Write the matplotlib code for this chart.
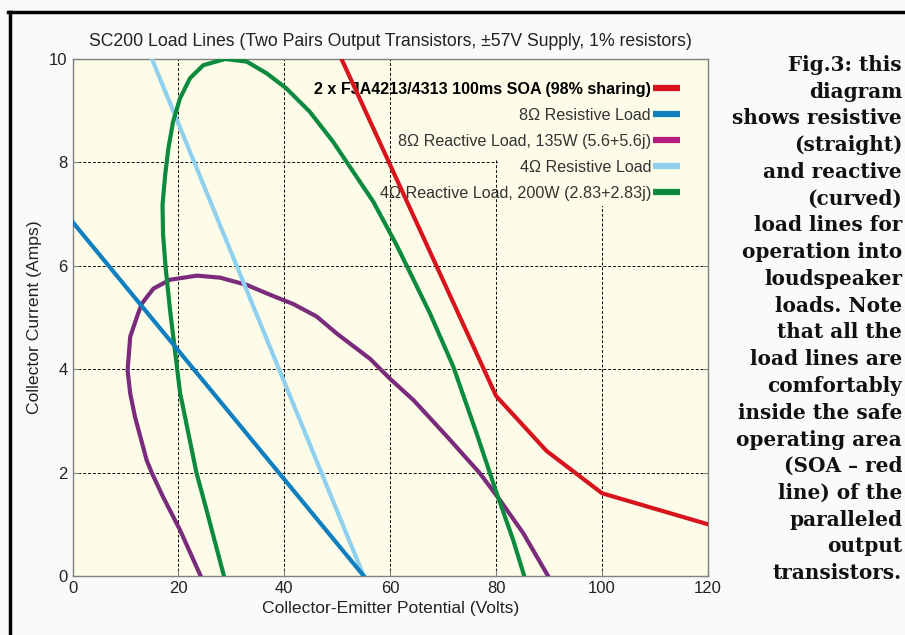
import matplotlib
matplotlib.use("Agg")
import matplotlib.pyplot as plt
from matplotlib.lines import Line2D
from matplotlib.patches import Polygon

# ---- data ----
soa_v = [50.8, 80.0, 89.5, 100.0, 120.0]
soa_i = [10.0, 3.48, 2.42, 1.60, 1.00]

r8_v = [0.0, 55.0]
r8_i = [6.85, 0.0]

r4_v = [15.0, 55.0]
r4_i = [10.0, 0.0]

x8_v = [24.2, 20.3, 17.1, 15.0, 14.0, 11.8, 10.9, 10.4, 10.9, 12.4, 13.1, 15.3, 18.4, 23.5,
        27.9, 32.9, 37.3, 41.7, 46.1, 49.9, 56.2, 59.9, 64.4, 70.7, 76.9, 80.7, 85.1, 89.8]
x8_i = [0.0, 0.89, 1.53, 1.99, 2.24, 3.08, 3.53, 3.98, 4.63, 5.08, 5.27, 5.56, 5.73, 5.81,
        5.77, 5.63, 5.44, 5.26, 5.02, 4.69, 4.20, 3.82, 3.40, 2.70, 1.99, 1.47, 0.83, 0.0]

x4_v = [28.6, 25.3, 23.4, 21.6, 20.3, 19.3, 18.4, 17.6, 17.1, 17.0, 17.5, 18.1, 19.0, 20.3,
        22.2, 24.7, 28.8, 32.9, 36.7, 40.4, 44.8, 49.2, 53.0, 56.8, 61.2, 67.5, 71.9, 76.3,
        80.1, 83.2, 85.3]
x4_i = [0.0, 1.28, 2.0, 2.9, 3.55, 4.4, 5.16, 5.95, 6.6, 7.18, 7.76, 8.27, 8.79, 9.24,
        9.63, 9.88, 10.0, 9.95, 9.72, 9.43, 8.98, 8.40, 7.82, 7.24, 6.40, 5.08, 4.05, 2.76,
        1.60, 0.70, 0.0]

labels = ["2 x FJA4213/4313 100ms SOA (98% sharing)",
          "8\u03a9 Resistive Load",
          "8\u03a9 Reactive Load, 135W (5.6+5.6j)",
          "4\u03a9 Resistive Load",
          "4\u03a9 Reactive Load, 200W (2.83+2.83j)"]

x_ticks = [0, 20, 40, 60, 80, 100, 120]
y_ticks = [0, 2, 4, 6, 8, 10]

title = "SC200 Load Lines (Two Pairs Output Transistors, \u00b157V Supply, 1% resistors)"
xlabel = "Collector-Emitter Potential (Volts)"
ylabel = "Collector Current (Amps)"

caption = ["Fig.3: this", "diagram", "shows resistive", "(straight)", "and reactive",
           "(curved)", "load lines for", "operation into", "loudspeaker", "loads. Note",
           "that all the", "load lines are", "comfortably", "inside the safe",
           "operating area", "(SOA \u2013 red", "line) of the", "paralleled", "output",
           "transistors."]

# ---- styling ----
c_red = "#d7141e"
c_blue = "#0f7fc0"
c_purple = "#7a2b7c"
c_magenta = "#b8197c"
c_lblue = "#8fd0ef"
c_green = "#0c8b3e"
c_bg = "#fdfce8"

plt.rcParams['font.family'] = ['Liberation Sans', 'DejaVu Sans']

W, H = 905, 635
fig = plt.figure(figsize=(W / 100, H / 100), dpi=100, facecolor="#f9fafa")
ax = fig.add_axes([72.5 / W, 1 - 576 / H, (708 - 72.5) / W, (576 - 59) / H])
ax.set_facecolor(c_bg)

lw = 3.0
ax.plot(x8_v, x8_i, color=c_purple, lw=lw, solid_joinstyle='round', zorder=3)
ax.plot(r4_v, r4_i, color=c_lblue, lw=lw, zorder=4)
ax.plot(x4_v, x4_i, color=c_green, lw=lw, solid_joinstyle='round', zorder=5)
ax.plot(r8_v, r8_i, color=c_blue, lw=lw, zorder=6)
ax.plot(soa_v, soa_i, color=c_red, lw=lw, solid_joinstyle='round', zorder=7)

ax.set_xlim(0, 120)
ax.set_ylim(0, 10)
ax.set_xticks(x_ticks)
ax.set_yticks(y_ticks)
ax.tick_params(axis='both', labelsize=12, colors="#808080", labelcolor="#222222",
               direction='in', length=4, right=True, top=False)
for s in ax.spines.values():
    s.set_color("#808080")
    s.set_linewidth(1.0)
ax.grid(True, color="black", linestyle=(0, (3, 2)), linewidth=0.7, zorder=1)
ax.set_axisbelow(True)

# legend background panel hiding the grid in the upper-right corner
panel = Polygon([(79.6, 10), (79.6, 8.05), (80.4, 8.05), (80.4, 7.15), (120, 7.15), (120, 10)],
                closed=True, facecolor=c_bg, edgecolor='none', zorder=1.5)
ax.add_patch(panel)

ax.set_title(title, fontsize=12.7, color="#222222", pad=9)
ax.set_xlabel(xlabel, fontsize=12.6, color="#222222", labelpad=4)
ax.set_ylabel(ylabel, fontsize=12.6, color="#222222", labelpad=5)

handles = [Line2D([], [], color=c, lw=4.5, solid_capstyle='butt')
           for c in [c_red, c_blue, c_magenta, c_lblue, c_green]]
leg = ax.legend(handles, labels, loc='upper right',
                bbox_to_anchor=((680 - 72.5) / 635.5, (576 - 82) / 517),
                markerfirst=False, frameon=False, fontsize=11.6,
                handlelength=1.7, handletextpad=0.1, labelspacing=0.68,
                borderpad=0, borderaxespad=0)
leg.set_zorder(2)
for i, t in enumerate(leg.get_texts()):
    if i == 0:
        t.set_fontweight('bold')
        t.set_color("black")
    else:
        t.set_color("#333333")

# caption on the right
for k, line in enumerate(caption):
    y = 65 + k * 26.75
    fig.text(902 / W, 1 - y / H, line, ha='right', va='center',
             fontsize=14.4, fontweight='bold', family='DejaVu Serif', color="#111111")

# page border (top and left)
fig.add_artist(Line2D([8 / W, 1], [1 - 12 / H, 1 - 12 / H], color="black", lw=2.5,
                      transform=fig.transFigure))
fig.add_artist(Line2D([9.5 / W, 9.5 / W], [0, 1 - 12 / H], color="black", lw=2.5,
                      transform=fig.transFigure))

fig.savefig("out.png", dpi=100, facecolor=fig.get_facecolor())
